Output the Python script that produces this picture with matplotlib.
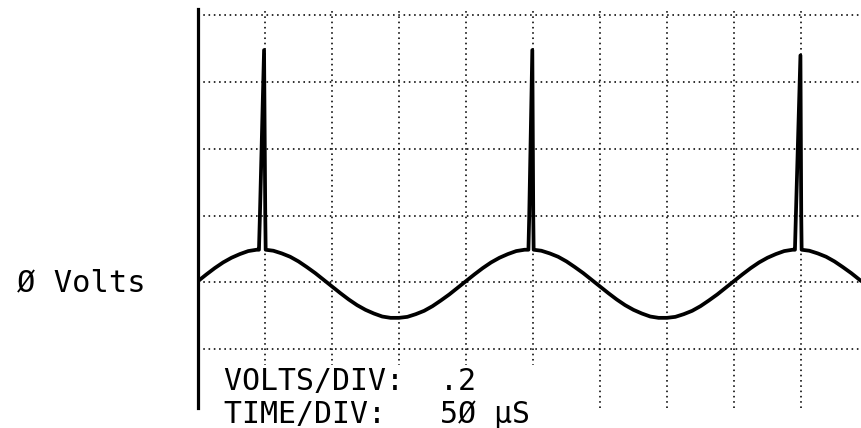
import matplotlib
matplotlib.use("Agg")
import matplotlib.pyplot as plt
from matplotlib.patches import Rectangle
from matplotlib.transforms import blended_transform_factory

# ---- data (time in microseconds, voltage in volts) ----
trace_t = [
    0, 6.25, 12.5, 18.75, 25, 31.25, 37.5, 43.75,
    45.5, 46.2, 49.3, 50.2, 50.5,
    56.25, 62.5, 68.75, 75, 81.25, 87.5, 93.75, 100, 106.25, 112.5, 118.75,
    125, 131.25, 137.5, 143.75, 150, 156.25, 162.5, 168.75, 175, 181.25,
    187.5, 193.75,
    200, 206.25, 212.5, 218.75, 225, 231.25, 237.5, 243.75,
    246.6, 247.2, 249.5, 250.2, 250.5,
    256.25, 262.5, 268.75, 275, 281.25, 287.5, 293.75, 300, 306.25, 312.5,
    318.75, 325, 331.25, 337.5, 343.75, 350, 356.25, 362.5, 368.75, 375,
    381.25, 387.5, 393.75,
    400, 406.25, 412.5, 418.75, 425, 431.25, 437.5, 443.75,
    445.5, 446.2, 449.6, 450.2, 450.5,
    456.25, 462.5, 468.75, 475, 481.25, 487.5, 493.75, 495]
trace_v = [
    0.004, 0.024, 0.043, 0.060, 0.074, 0.085, 0.094, 0.098,
    0.098, 0.200, 0.696, 0.200, 0.098,
    0.095, 0.087, 0.077, 0.063, 0.046, 0.028, 0.008, -0.012, -0.032, -0.051,
    -0.068, -0.082, -0.093, -0.102, -0.106, -0.106, -0.103, -0.095, -0.085,
    -0.071, -0.054, -0.036, -0.016,
    0.004, 0.024, 0.043, 0.060, 0.074, 0.085, 0.094, 0.098,
    0.098, 0.200, 0.696, 0.200, 0.098,
    0.095, 0.087, 0.077, 0.063, 0.046, 0.028, 0.008, -0.012, -0.032, -0.051,
    -0.068, -0.082, -0.093, -0.102, -0.106, -0.106, -0.103, -0.095, -0.085,
    -0.071, -0.054, -0.036, -0.016,
    0.004, 0.024, 0.043, 0.060, 0.074, 0.085, 0.094, 0.098,
    0.098, 0.200, 0.680, 0.200, 0.098,
    0.095, 0.087, 0.077, 0.063, 0.046, 0.028, 0.008, 0.004]

time_grid = [50, 100, 150, 200, 250, 300, 350, 400, 450]
volt_grid = [-0.2, 0.0, 0.2, 0.4, 0.6, 0.8]

zero_label = "Ø Volts"
info_lines = ["VOLTS/DIV:  .2", "TIME/DIV:   5Ø µS"]

W, H = 861, 428
fig = plt.figure(figsize=(W / 100, H / 100), dpi=100)
fig.patch.set_facecolor("white")

left_px, right_px, top_px, bot_px = 198, 861, 9, 408
ax = fig.add_axes([left_px / W, 1 - bot_px / H,
                   (right_px - left_px) / W, (bot_px - top_px) / H])
ax.set_xlim(0, 494.8)
ax.set_ylim(-0.376, 0.819)

# dotted graticule
for t in time_grid:
    ax.axvline(t, color="black", lw=1.15, linestyle=(0, (1, 2.3)), zorder=1)
for v in volt_grid:
    ax.axhline(v, color="black", lw=1.15, linestyle=(0, (1, 2.3)), zorder=1)

ax.plot(trace_t, trace_v, color="black", lw=2.7, solid_joinstyle="round",
        solid_capstyle="round", zorder=3)

for s in ["top", "right", "bottom"]:
    ax.spines[s].set_visible(False)
ax.spines["left"].set_linewidth(2.3)
ax.spines["left"].set_color("black")
ax.set_xticks([])
ax.set_yticks([])
ax.patch.set_alpha(0)

# white box behind the settings text
fig.add_artist(Rectangle((205 / W, 0), (560 - 205) / W, (H - 365) / H,
                         transform=fig.transFigure, facecolor="white",
                         edgecolor="none", zorder=1))

mono = "DejaVu Sans Mono"
trans = blended_transform_factory(fig.transFigure, ax.transData)
fig.text(81 / W, 0.0, zero_label, transform=trans, ha="center", va="center",
         fontsize=22, family=mono, color="black", zorder=3)

fig.text(224 / W, 1 - 390 / H, info_lines[0], ha="left", va="baseline",
         fontsize=21.5, family=mono, color="black", zorder=3)
fig.text(224 / W, 1 - 423 / H, info_lines[1], ha="left", va="baseline",
         fontsize=21.5, family=mono, color="black", zorder=3)

fig.savefig("out.png", dpi=100, facecolor="white")
